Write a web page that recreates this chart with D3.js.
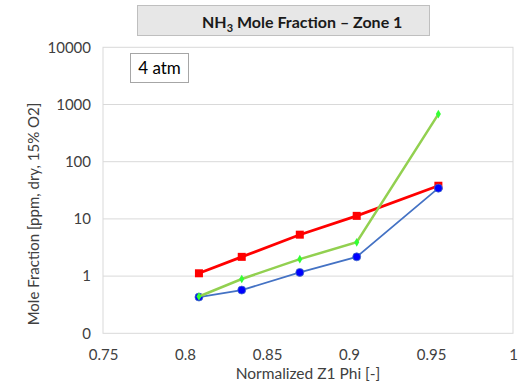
<!DOCTYPE html>
<html><head><meta charset="utf-8">
<script src="https://cdn.jsdelivr.net/npm/d3@7"></script>
<style>body{margin:0;background:#fff;}svg{display:block;font-family:Lato,"Open Sans",sans-serif;}</style>
</head><body>
<svg id="c" width="524" height="384"></svg>
<script>
const xPhi = [0.8085, 0.8346, 0.870, 0.9047, 0.9545];
const redVals = [1.12, 2.17, 5.3, 11.3, 38];
const greenVals = [0.44, 0.89, 1.98, 3.9, 680];
const blueVals = [0.43, 0.57, 1.16, 2.17, 34.5];
const xTicks = [0.75, 0.8, 0.85, 0.9, 0.95, 1];
const yTicks = [0.1, 1, 10, 100, 1000, 10000];
const yTickLabels = ["0", "1", "10", "100", "1000", "10000"];
const titleText = "Mole Fraction – Zone 1";
const xTitle = "Normalized Z1 Phi [-]";
const yTitle = "Mole Fraction [ppm, dry, 15% O2]";
const annot = "4 atm";

const svg = d3.select("#c");
const L = 103, R = 513, T = 47.3, B = 333.3;
const x = d3.scaleLinear().domain([0.75, 1]).range([L, R]);
const y = d3.scaleLog().domain([0.1, 10000]).range([B, T]);

// gridlines
svg.append("g").selectAll("line").data(yTicks.slice(1, -1)).join("line")
  .attr("x1", L).attr("x2", R).attr("y1", d => y(d)).attr("y2", d => y(d))
  .attr("stroke", "#d9d9d9").attr("stroke-width", 1);
svg.append("rect").attr("x", L).attr("y", T).attr("width", R - L).attr("height", B - T)
  .attr("fill", "none").attr("stroke", "#d9d9d9").attr("stroke-width", 1);

// axes
const yAxis = d3.axisLeft(y).tickValues(yTicks).tickFormat((d, i) => yTickLabels[i]).tickSize(0).tickPadding(12);
const gy = svg.append("g").attr("transform", `translate(${L},0)`).call(yAxis);
gy.select(".domain").remove();
gy.selectAll("text").attr("font-size", 15).attr("fill", "#404040").attr("font-family", "Lato,'Open Sans',sans-serif");

const xAxis = d3.axisBottom(x).tickValues(xTicks).tickFormat(d3.format("")).tickSize(0).tickPadding(16);
const gx = svg.append("g").attr("transform", `translate(0,${B})`).call(xAxis);
gx.select(".domain").remove();
gx.selectAll("text").attr("font-size", 15).attr("fill", "#404040").attr("font-family", "Lato,'Open Sans',sans-serif");

// axis titles
svg.append("text").attr("x", 308).attr("y", 379).attr("text-anchor", "middle")
  .attr("font-size", 15.5).attr("fill", "#404040").text(xTitle);
svg.append("text").attr("transform", "translate(39,214) rotate(-90)").attr("text-anchor", "middle")
  .attr("font-size", 15).attr("fill", "#404040").text(yTitle);

// title box
svg.append("rect").attr("x", 137.5).attr("y", 5.5).attr("width", 292).attr("height", 30)
  .attr("fill", "#e7e7e7").attr("stroke", "#bfbfbf");
const tt = svg.append("text").attr("x", 202).attr("y", 28).attr("font-size", 16).attr("font-weight", "bold").attr("fill", "#1a1a1a");
tt.append("tspan").text("NH");
tt.append("tspan").attr("font-size", 11).attr("dy", 4).text("3");
tt.append("tspan").attr("dy", -4).text(" " + titleText);

// annotation box
svg.append("rect").attr("x", 130.5).attr("y", 53.5).attr("width", 58).attr("height", 29)
  .attr("fill", "#fff").attr("stroke", "#a6a6a6");
svg.append("text").attr("x", 159.5).attr("y", 74).attr("text-anchor", "middle").attr("font-size", 17).attr("fill", "#000").text(annot);

const line = d3.line().x(d => x(d[0])).y(d => y(d[1]));
function series(vals, color, w) {
  const pts = xPhi.map((p, i) => [p, vals[i]]);
  svg.append("path").datum(pts).attr("d", line).attr("fill", "none").attr("stroke", color).attr("stroke-width", w);
  return pts;
}
// red
const rp = series(redVals, "#ff0000", 2.75);
svg.append("g").selectAll("rect").data(rp).join("rect")
  .attr("x", d => x(d[0]) - 4).attr("y", d => y(d[1]) - 4).attr("width", 8).attr("height", 8).attr("fill", "#ff0000");
// blue
const bp = series(blueVals, "#4472c4", 1.75);
svg.append("g").selectAll("circle").data(bp).join("circle")
  .attr("cx", d => x(d[0])).attr("cy", d => y(d[1])).attr("r", 4).attr("fill", "#0000ff").attr("stroke", "#4472c4").attr("stroke-width", 0.75);
// green
const gp = series(greenVals, "#92d050", 2.5);
svg.append("g").selectAll("path").data(gp).join("path")
  .attr("d", d3.symbol(d3.symbolDiamond, 22)).attr("transform", d => `translate(${x(d[0])},${y(d[1])})`).attr("fill", "#33ff33");
</script>
</body></html>
